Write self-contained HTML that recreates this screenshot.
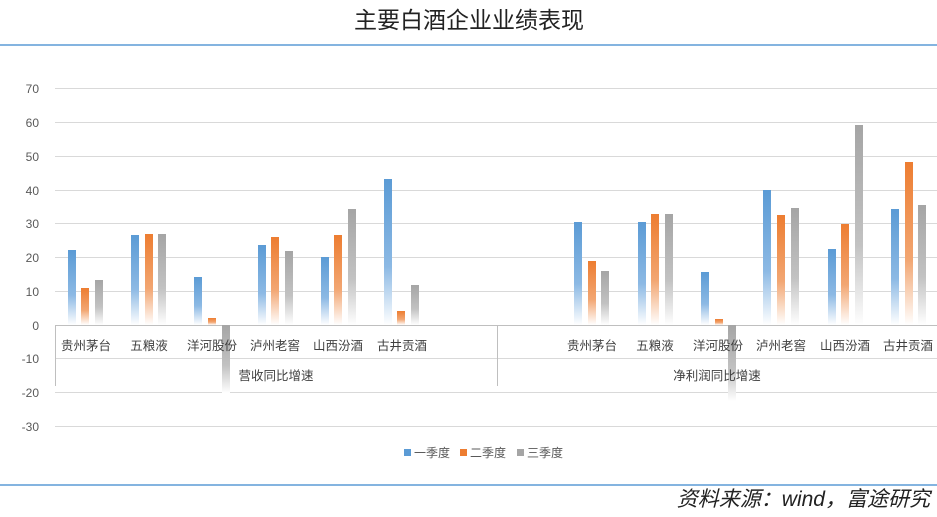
<!DOCTYPE html>
<html><head><meta charset="utf-8"><style>
body{margin:0;background:#fff;width:937px;height:517px;overflow:hidden}
svg{display:block;font-family:"Liberation Sans","Noto Sans CJK SC",sans-serif}
</style></head><body>
<svg width="937" height="517" viewBox="0 0 937 517" xmlns="http://www.w3.org/2000/svg">
<defs>
<linearGradient id="gb" x1="0" y1="0" x2="0" y2="1"><stop offset="0" stop-color="#5b9bd5"/><stop offset="0.6" stop-color="#8cb9e4"/><stop offset="1" stop-color="#ffffff"/></linearGradient>
<linearGradient id="go" x1="0" y1="0" x2="0" y2="1"><stop offset="0" stop-color="#ed7d31"/><stop offset="0.6" stop-color="#f2a672"/><stop offset="1" stop-color="#ffffff"/></linearGradient>
<linearGradient id="gg" x1="0" y1="0" x2="0" y2="1"><stop offset="0" stop-color="#a5a5a5"/><stop offset="0.6" stop-color="#c2c2c2"/><stop offset="1" stop-color="#ffffff"/></linearGradient>
</defs>
<text x="469" y="28" font-size="23" text-anchor="middle" fill="#222">主要白酒企业业绩表现</text>
<line x1="0" y1="45" x2="937" y2="45" stroke="#5b9bd5" stroke-width="1.5"/>
<g stroke="#d9d9d9" stroke-width="1">
<line x1="55" y1="88.5" x2="937" y2="88.5"/><line x1="55" y1="122.5" x2="937" y2="122.5"/>
<line x1="55" y1="156.5" x2="937" y2="156.5"/><line x1="55" y1="190.5" x2="937" y2="190.5"/>
<line x1="55" y1="223.5" x2="937" y2="223.5"/><line x1="55" y1="257.5" x2="937" y2="257.5"/>
<line x1="55" y1="291.5" x2="937" y2="291.5"/><line x1="55" y1="358.5" x2="937" y2="358.5"/>
<line x1="55" y1="392.5" x2="937" y2="392.5"/><line x1="55" y1="426.5" x2="937" y2="426.5"/>
<line x1="55" y1="325.5" x2="937" y2="325.5" stroke="#bfbfbf"/>
<line x1="55.5" y1="325" x2="55.5" y2="386" stroke="#bfbfbf"/>
<line x1="497.5" y1="325" x2="497.5" y2="386" stroke="#bfbfbf"/>
</g>
<g font-size="12" fill="#595959" text-anchor="end">
<text x="39" y="93">70</text><text x="39" y="127">60</text><text x="39" y="161">50</text>
<text x="39" y="195">40</text><text x="39" y="228">30</text><text x="39" y="262">20</text>
<text x="39" y="296">10</text><text x="39" y="330">0</text><text x="39" y="363">-10</text>
<text x="39" y="397">-20</text><text x="39" y="431">-30</text>
</g>
<g>
<rect x="68" y="250" width="8" height="75" fill="url(#gb)"/>
<rect x="81" y="288" width="8" height="37" fill="url(#go)"/>
<rect x="95" y="280" width="8" height="45" fill="url(#gg)"/>
<rect x="131" y="235" width="8" height="90" fill="url(#gb)"/>
<rect x="145" y="234" width="8" height="91" fill="url(#go)"/>
<rect x="158" y="234" width="8" height="91" fill="url(#gg)"/>
<rect x="194" y="277" width="8" height="48" fill="url(#gb)"/>
<rect x="208" y="318" width="8" height="7" fill="url(#go)"/>
<rect x="222" y="325" width="8" height="68" fill="url(#gg)"/>
<rect x="258" y="245" width="8" height="80" fill="url(#gb)"/>
<rect x="271" y="237" width="8" height="88" fill="url(#go)"/>
<rect x="285" y="251" width="8" height="74" fill="url(#gg)"/>
<rect x="321" y="257" width="8" height="68" fill="url(#gb)"/>
<rect x="334" y="235" width="8" height="90" fill="url(#go)"/>
<rect x="348" y="209" width="8" height="116" fill="url(#gg)"/>
<rect x="384" y="179" width="8" height="146" fill="url(#gb)"/>
<rect x="397" y="311" width="8" height="14" fill="url(#go)"/>
<rect x="411" y="285" width="8" height="40" fill="url(#gg)"/>

<rect x="574" y="222" width="8" height="103" fill="url(#gb)"/>
<rect x="588" y="261" width="8" height="64" fill="url(#go)"/>
<rect x="601" y="271" width="8" height="54" fill="url(#gg)"/>
<rect x="638" y="222" width="8" height="103" fill="url(#gb)"/>
<rect x="651" y="214" width="8" height="111" fill="url(#go)"/>
<rect x="665" y="214" width="8" height="111" fill="url(#gg)"/>
<rect x="701" y="272" width="8" height="53" fill="url(#gb)"/>
<rect x="715" y="319" width="8" height="6" fill="url(#go)"/>
<rect x="728" y="325" width="8" height="76" fill="url(#gg)"/>
<rect x="763" y="190" width="8" height="135" fill="url(#gb)"/>
<rect x="777" y="215" width="8" height="110" fill="url(#go)"/>
<rect x="791" y="208" width="8" height="117" fill="url(#gg)"/>
<rect x="828" y="249" width="8" height="76" fill="url(#gb)"/>
<rect x="841" y="224" width="8" height="101" fill="url(#go)"/>
<rect x="855" y="125" width="8" height="200" fill="url(#gg)"/>
<rect x="891" y="209" width="8" height="116" fill="url(#gb)"/>
<rect x="905" y="162" width="8" height="163" fill="url(#go)"/>
<rect x="918" y="205" width="8" height="120" fill="url(#gg)"/>
</g>
<g font-size="12.5" fill="#404040" text-anchor="middle">
<text x="86" y="350">贵州茅台</text><text x="149" y="350">五粮液</text><text x="212" y="350">洋河股份</text>
<text x="275" y="350">泸州老窖</text><text x="338" y="350">山西汾酒</text><text x="402" y="350">古井贡酒</text>
<text x="592" y="350">贵州茅台</text><text x="655" y="350">五粮液</text><text x="718" y="350">洋河股份</text>
<text x="781" y="350">泸州老窖</text><text x="845" y="350">山西汾酒</text><text x="908" y="350">古井贡酒</text>
<text x="276" y="380">营收同比增速</text><text x="717" y="380">净利润同比增速</text>
</g>
<g font-size="12" fill="#595959">
<rect x="404" y="449" width="7" height="7" fill="#5b9bd5"/><text x="414" y="457">一季度</text>
<rect x="460" y="449" width="7" height="7" fill="#ed7d31"/><text x="470" y="457">二季度</text>
<rect x="517" y="449" width="7" height="7" fill="#a5a5a5"/><text x="527" y="457">三季度</text>
</g>
<line x1="0" y1="485" x2="937" y2="485" stroke="#5b9bd5" stroke-width="1.5"/>
<text x="930" y="506" font-size="21" font-style="italic" text-anchor="end" fill="#222">资料来源：wind，富途研究</text>
</svg>
</body></html>
